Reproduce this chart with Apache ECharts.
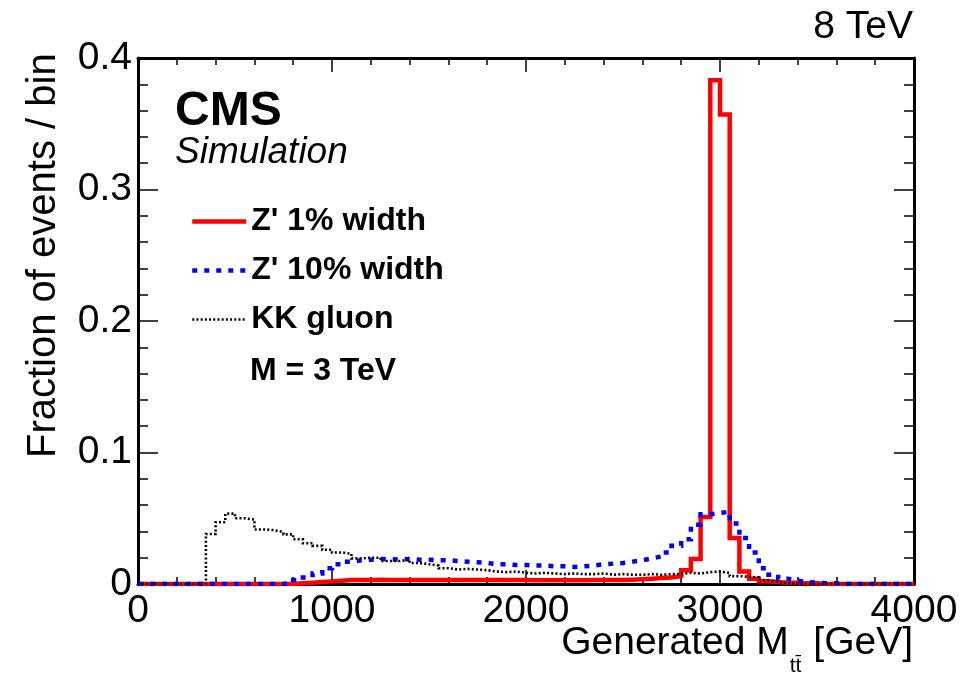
<!DOCTYPE html>
<html>
<head>
<meta charset="utf-8">
<script src="https://cdn.jsdelivr.net/npm/echarts@6/dist/echarts.min.js"></script>
<style>
html,body{margin:0;padding:0;background:#fff;}
#chart{width:977px;height:676px;}
</style>
</head>
<body>
<div id="chart"></div>
<script>
// Histogram: 80 bins of 50 GeV from 0 to 4000 GeV
const BIN_WIDTH = 50;
const xTicks = [0, 1000, 2000, 3000, 4000];
const yTicks = [0, 0.1, 0.2, 0.3, 0.4];
const seriesNames = ["Z' 1% width", "Z' 10% width", "KK gluon"];

const zprime1 = [
  0,0,0,0,0,0,0,0,0,0,
  0,0,0,0,0,0,0.0005,0.001,0.0015,0.002,
  0.0025,0.003,0.003,0.003,0.0032,0.003,0.003,0.003,0.0031,0.003,
  0.003,0.003,0.003,0.003,0.003,0.003,0.003,0.003,0.003,0.003,
  0.0028,0.0028,0.0028,0.0028,0.0028,0.0028,0.003,0.003,0.003,0.003,
  0.0033,0.0036,0.004,0.0045,0.005,0.006,0.0105,0.019,0.051,0.383,
  0.357,0.035,0.0095,0.004,0.002,0.0015,0.001,0.001,0.0005,0.0005,
  0,0,0,0,0,0,0,0,0,0
];
const zprime10 = [
  0,0,0,0,0,0,0,0,0,0,
  0,0,0,0,0,0.001,0.003,0.005,0.008,0.012,
  0.015,0.017,0.018,0.0185,0.019,0.019,0.0185,0.019,0.0185,0.0185,
  0.018,0.018,0.0175,0.017,0.0165,0.016,0.015,0.015,0.0145,0.0145,
  0.014,0.014,0.0135,0.0135,0.013,0.0135,0.014,0.015,0.0155,0.016,
  0.017,0.018,0.0195,0.021,0.024,0.029,0.034,0.045,0.053,0.054,
  0.055,0.046,0.035,0.024,0.012,0.007,0.004,0.0025,0.0015,0.001,
  0.0005,0.0005,0,0,0,0,0,0,0,0
];
const kkgluon = [
  0,0,0,0,0,0,0,0.038,0.047,0.0535,
  0.050,0.049,0.0415,0.041,0.0395,0.0377,0.034,0.031,0.029,0.026,
  0.024,0.023,0.0195,0.020,0.020,0.0175,0.0175,0.0185,0.016,0.015,
  0.014,0.012,0.011,0.0115,0.011,0.0105,0.0095,0.009,0.0095,0.0085,
  0.008,0.0085,0.008,0.0075,0.008,0.0075,0.0075,0.008,0.007,0.0075,
  0.007,0.007,0.0075,0.007,0.0075,0.0075,0.0085,0.008,0.009,0.0095,
  0.0085,0.006,0.0055,0.005,0.003,0.0015,0.0005,0,0,0,
  0,0,0,0,0,0,0,0,0,0
];

function hist(vals) {
  const pts = vals.map((v, i) => [i * BIN_WIDTH, v]);
  pts.push([vals.length * BIN_WIDTH, vals[vals.length - 1]]);
  return pts;
}

const FONT = "'Liberation Sans', Arial, Helvetica, sans-serif";
const RED = '#ff0000', BLUE = '#0000ff', BLACK = '#000000';
const RED_STYLE = {color: RED, width: 4.5, type: 'solid'};
const BLUE_STYLE = {color: BLUE, width: 4.5, type: [5, 7]};
const BLACK_STYLE = {color: BLACK, width: 2.6, type: [2, 2.2]};
const HIDDEN_SYMBOL = {opacity: 0, color: 'rgba(0,0,0,0)', borderWidth: 0};

// x-axis title pieces: "Generated M" + subscript "tt̄" + " [GeV]", right edge at 913
const TITLE_MAIN = 'Generated M', TITLE_SUB = 'tt\u0304', TITLE_UNIT = ' [GeV]';
const measureCtx = document.createElement('canvas').getContext('2d');
function textWidth(t, size) { measureCtx.font = size + 'px ' + FONT; return measureCtx.measureText(t).width; }
const TITLE_RIGHT = 913;
const unitLeft = TITLE_RIGHT - textWidth(TITLE_UNIT, 39);
const subLeft = unitLeft - textWidth(TITLE_SUB, 21) - 2;

const chart = echarts.init(document.getElementById('chart'), null, {renderer: 'canvas'});

const xBase = {
  type: 'value', min: xTicks[0], max: xTicks[xTicks.length - 1], interval: 1000,
  splitLine: {show: false},
  axisLine: {show: true, onZero: false, lineStyle: {color: BLACK, width: 3}},
  axisTick: {show: true, inside: true, length: 14, lineStyle: {color: BLACK, width: 1.5}},
  minorTick: {show: true, splitNumber: 5, length: 7, lineStyle: {color: BLACK, width: 1.5}},
  minorSplitLine: {show: false}
};
const yBase = {
  type: 'value', min: yTicks[0], max: yTicks[yTicks.length - 1], interval: 0.1,
  splitLine: {show: false},
  axisLine: {show: true, onZero: false, lineStyle: {color: BLACK, width: 3}},
  axisTick: {show: true, inside: true, length: 20, lineStyle: {color: BLACK, width: 1.5}},
  minorTick: {show: true, splitNumber: 5, length: 10, lineStyle: {color: BLACK, width: 1.5}},
  minorSplitLine: {show: false}
};

const option = {
  animation: false,
  backgroundColor: '#ffffff',
  grid: {left: 138, right: 63, top: 58, bottom: 92, containLabel: false},
  xAxis: [
    Object.assign({}, xBase, {
      position: 'bottom',
      axisLabel: {show: true, color: BLACK, fontFamily: FONT, fontSize: 39, margin: 8,
        showMinLabel: true, showMaxLabel: true, formatter: v => String(v)}
    }),
    Object.assign({}, xBase, {position: 'top', axisLabel: {show: false}})
  ],
  yAxis: [
    Object.assign({}, yBase, {
      position: 'left',
      axisLabel: {show: true, color: BLACK, fontFamily: FONT, fontSize: 39, margin: 6,
        showMinLabel: true, showMaxLabel: true,
        formatter: v => String(Math.round(v * 10) / 10)}
    }),
    Object.assign({}, yBase, {position: 'right', axisLabel: {show: false}})
  ],
  legend: {
    show: true,
    orient: 'vertical',
    left: 190, top: 203, padding: 0,
    itemWidth: 54, itemHeight: 14, itemGap: 12,
    selectedMode: false,
    textStyle: {fontFamily: FONT, fontSize: 32, fontWeight: 'bold', color: BLACK, lineHeight: 37},
    data: [
      {name: seriesNames[0], lineStyle: RED_STYLE, itemStyle: HIDDEN_SYMBOL},
      {name: seriesNames[1], lineStyle: BLUE_STYLE, itemStyle: HIDDEN_SYMBOL},
      {name: seriesNames[2], lineStyle: BLACK_STYLE, itemStyle: HIDDEN_SYMBOL}
    ]
  },
  series: [
    {
      name: seriesNames[0], type: 'line', step: 'end', symbol: 'none',
      xAxisIndex: 0, yAxisIndex: 0, z: 3,
      lineStyle: Object.assign({cap: 'butt', join: 'miter'}, RED_STYLE),
      itemStyle: {color: RED},
      data: hist(zprime1)
    },
    {
      name: seriesNames[1], type: 'line', step: 'end', symbol: 'none',
      xAxisIndex: 0, yAxisIndex: 0, z: 4,
      lineStyle: Object.assign({cap: 'butt', join: 'miter'}, BLUE_STYLE),
      itemStyle: {color: BLUE},
      data: hist(zprime10)
    },
    {
      name: seriesNames[2], type: 'line', step: 'end', symbol: 'none',
      xAxisIndex: 0, yAxisIndex: 0, z: 5,
      lineStyle: Object.assign({cap: 'butt', join: 'miter'}, BLACK_STYLE),
      itemStyle: {color: BLACK},
      data: hist(kkgluon)
    }
  ],
  graphic: [
    {type: 'text', left: 175, top: 88, style: {text: 'CMS', fontFamily: FONT, fontSize: 48, fontWeight: 'bold', fill: BLACK}},
    {type: 'text', left: 175, top: 134, style: {text: 'Simulation', fontFamily: FONT, fontSize: 37, fontStyle: 'italic', fill: BLACK}},
    {type: 'text', left: 250, top: 355, style: {text: 'M = 3 TeV', fontFamily: FONT, fontSize: 32, fontWeight: 'bold', fill: BLACK}},
    {type: 'text', right: 64, top: 8, style: {text: '8 TeV', fontFamily: FONT, fontSize: 39, fill: BLACK}},
    {type: 'text', x: 44, y: 458, rotation: Math.PI / 2,
      style: {text: 'Fraction of events / bin', fontFamily: FONT, fontSize: 40, fill: BLACK,
        align: 'left', verticalAlign: 'middle'}},
    {type: 'text', x: subLeft, y: 643,
      style: {text: TITLE_MAIN, fontFamily: FONT, fontSize: 39, fill: BLACK, align: 'right', verticalAlign: 'middle'}},
    {type: 'text', x: subLeft + 1, y: 666,
      style: {text: TITLE_SUB, fontFamily: FONT, fontSize: 21, fill: BLACK, align: 'left', verticalAlign: 'middle'}},
    {type: 'text', x: unitLeft, y: 643,
      style: {text: TITLE_UNIT, fontFamily: FONT, fontSize: 39, fill: BLACK, align: 'left', verticalAlign: 'middle'}}
  ]
};
chart.setOption(option);
</script>
</body>
</html>
